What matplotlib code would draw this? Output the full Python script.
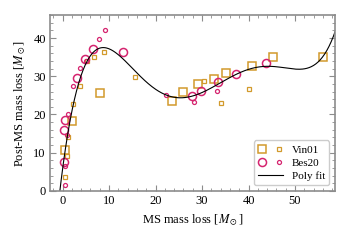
import numpy as np
import matplotlib
matplotlib.use("Agg")
import matplotlib.pyplot as plt
from matplotlib.legend_handler import HandlerTuple
from matplotlib.ticker import MultipleLocator

plt.rcParams['font.family'] = ['Liberation Serif', 'DejaVu Serif']
plt.rcParams['mathtext.fontset'] = 'stix'

# Vin01, large and small squares
vin_big_x = [8.1, 2.0, 0.5, 23.6, 26.0, 29.2, 32.6, 35.2, 40.7, 45.3, 56.1]
vin_big_y = [25.6, 18.4, 10.8, 23.5, 25.8, 28.0, 29.4, 30.8, 32.8, 35.1, 35.0]
vin_small_x = [9.0, 6.8, 5.2, 3.8, 2.2, 1.25, 0.9, 0.5, 15.6, 30.4, 34.1, 40.1]
vin_small_y = [36.3, 35.0, 34.1, 27.4, 22.8, 14.0, 9.0, 3.6, 29.9, 28.8, 23.1, 26.6]

# Bes20, large and small circles
bes_big_x = [6.6, 4.9, 3.05, 0.5, 0.4, 0.3, 13.1, 27.9, 29.7, 33.4, 37.3, 43.7]
bes_big_y = [37.1, 34.6, 29.6, 18.6, 16.0, 7.6, 36.3, 24.7, 26.1, 28.6, 30.6, 33.4]
bes_small_x = [9.1, 7.9, 5.1, 3.8, 2.2, 1.2, 0.9, 0.5, 0.5, 22.3, 28.3, 33.2]
bes_small_y = [42.1, 39.8, 34.0, 32.2, 27.4, 20.1, 14.5, 6.4, 1.4, 25.1, 23.3, 26.1]

sq_col = '#d29a2c'
ci_col = '#d5246f'
spine_col = '#8c8c8c'

fig, ax = plt.subplots(figsize=(3.5, 2.4), dpi=100)
fig.subplots_adjust(left=0.143, right=0.957, top=0.937, bottom=0.205)

vb, = ax.plot(vin_big_x, vin_big_y, 's', ms=5.2, mfc='none', mec=sq_col, mew=1.1, ls='none')
vs, = ax.plot(vin_small_x, vin_small_y, 's', ms=2.6, mfc='none', mec=sq_col, mew=0.9, ls='none')
bb, = ax.plot(bes_big_x, bes_big_y, 'o', ms=5.8, mfc='none', mec=ci_col, mew=1.1, ls='none')
bs, = ax.plot(bes_small_x, bes_small_y, 'o', ms=2.9, mfc='none', mec=ci_col, mew=0.9, ls='none')

# polynomial fit to all points
all_x = np.array(vin_big_x + vin_small_x + bes_big_x + bes_small_x)
all_y = np.array(vin_big_y + vin_small_y + bes_big_y + bes_small_y)
coef = np.polyfit(all_x, all_y, 5)
xf = np.linspace(-3, 60, 400)
fit, = ax.plot(xf, np.polyval(coef, xf), color='k', lw=0.8)

ax.set_xlim(-2.7, 58.6)
ax.set_ylim(0, 46)
ax.xaxis.set_major_locator(MultipleLocator(10))
ax.xaxis.set_minor_locator(MultipleLocator(2))
ax.yaxis.set_major_locator(MultipleLocator(10))
ax.yaxis.set_minor_locator(MultipleLocator(2))
ax.tick_params(which='both', direction='in', top=True, right=True,
               color=spine_col, labelsize=9, pad=3)
ax.tick_params(which='major', length=4, width=0.8)
ax.tick_params(which='minor', length=2, width=0.6)
for s in ax.spines.values():
    s.set_color(spine_col)
    s.set_linewidth(1.2)

ax.set_xlabel(r'MS mass loss [$M_\odot$]', fontsize=9)
ax.set_ylabel(r'Post-MS mass loss [$M_\odot$]', fontsize=9)

leg = ax.legend([(vb, vs), (bb, bs), fit], ['Vin01', 'Bes20', 'Poly fit'],
                handler_map={tuple: HandlerTuple(ndivide=None, pad=0.8)},
                loc='lower right', fontsize=8, handlelength=2.2,
                borderpad=0.4, labelspacing=0.3, fancybox=True, framealpha=1)
leg.get_frame().set_edgecolor('#cccccc')

fig.savefig('out.png', dpi=100)
